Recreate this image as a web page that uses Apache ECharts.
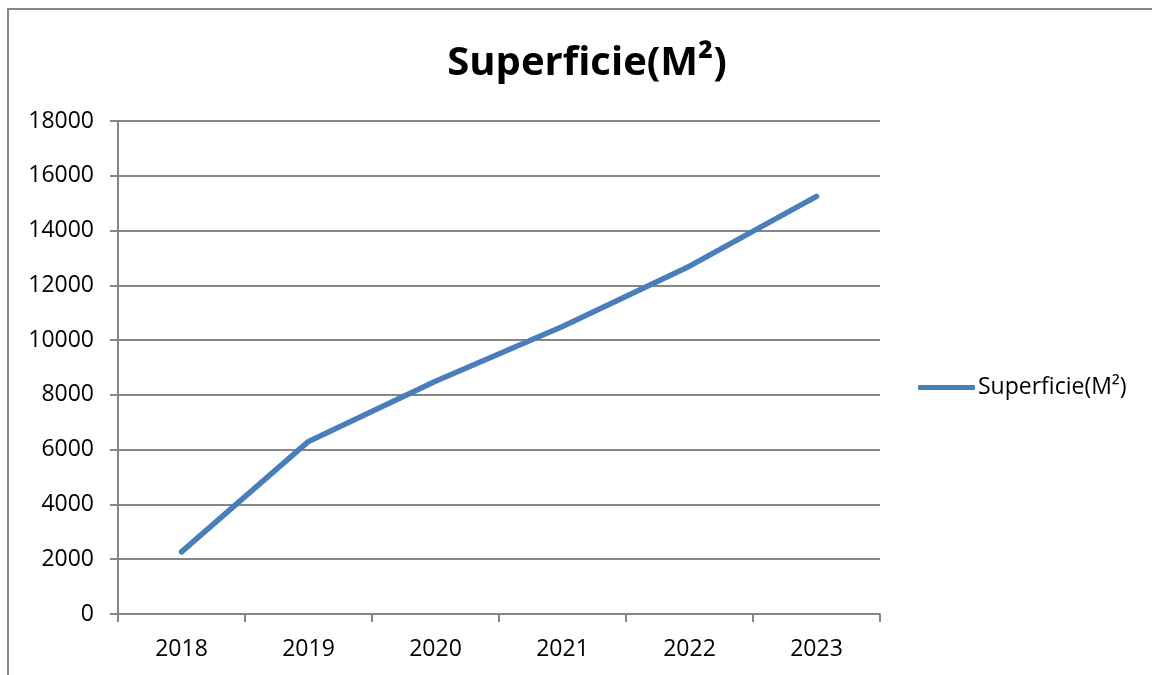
<!DOCTYPE html>
<html><head><meta charset="utf-8">
<script src="https://cdn.jsdelivr.net/npm/echarts@6/dist/echarts.min.js"></script>
<style>html,body{margin:0;padding:0;background:#fff}#c{width:1152px;height:675px}</style>
</head><body><div id="c"></div>
<script>
const categories = ['2018','2019','2020','2021','2022','2023'];
const superficie = [2270, 6300, 8500, 10500, 12700, 15250];
const seriesName = 'Superficie(M²)';
const titleText = 'Superficie(M²)';

const chart = echarts.init(document.getElementById('c'), null, {renderer:'canvas'});
const gray = '#868686';
const font = 'Open Sans';
chart.setOption({
  animation: false,
  backgroundColor: '#fff',
  graphic: [{type:'rect', shape:{x:8, y:9, width:1200, height:700}, style:{fill:'none', stroke:gray, lineWidth:2}, silent:true}],
  title: {text: titleText, left: 582, top: 39, textAlign:'center',
    textStyle:{fontFamily:font, fontWeight:'bold', fontSize:40, color:'#000'}},
  legend: {data:[seriesName], left: 913, top: 371, itemWidth: 57, itemHeight: 5, itemGap: 0,
    icon: 'roundRect',
    textStyle:{fontFamily:font, fontSize:23, color:'#000', padding:[0,0,0,-2]}},
  grid: {left:118, right:272, top:121, bottom:61, containLabel:false},
  xAxis: {type:'category', data:categories, boundaryGap:true,
    axisLine:{lineStyle:{color:gray, width:2}},
    axisTick:{show:true, length:8, lineStyle:{color:gray, width:2}, alignWithLabel:false},
    axisLabel:{fontFamily:font, fontSize:23, color:'#000', margin:24}},
  yAxis: {type:'value', min:0, max:18000, interval:2000,
    axisLine:{show:true, lineStyle:{color:gray, width:2}},
    axisTick:{show:true, length:8, lineStyle:{color:gray, width:2}},
    splitLine:{lineStyle:{color:gray, width:2}},
    axisLabel:{fontFamily:font, fontSize:23, color:'#000', margin:24, formatter: v => String(v)}},
  series: [{name:seriesName, type:'line', data:superficie, symbol:'none',
    lineStyle:{color:'#4a7ebb', width:5.5, cap:'round', join:'round'},
    itemStyle:{color:'#4a7ebb'}}]
});
</script></body></html>
